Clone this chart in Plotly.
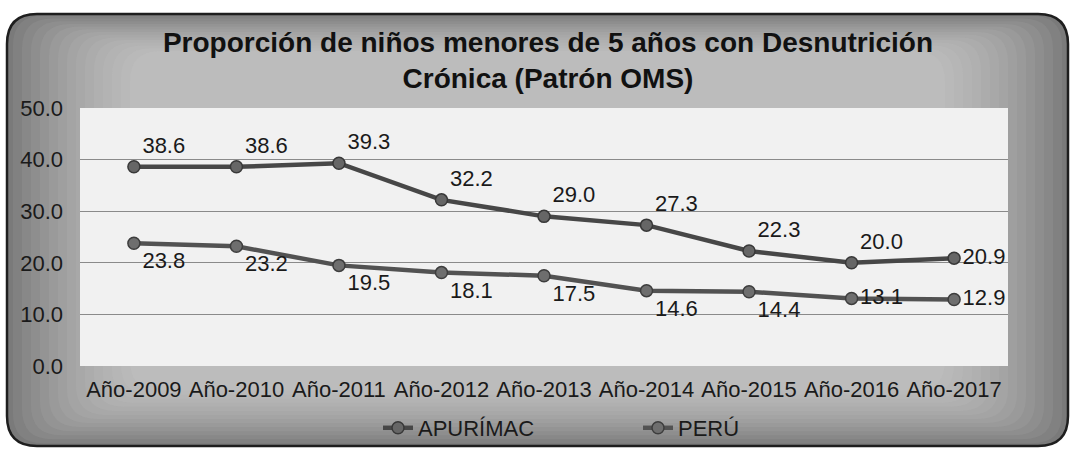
import plotly.graph_objects as go

categories = ["Año-2009", "Año-2010", "Año-2011", "Año-2012", "Año-2013",
              "Año-2014", "Año-2015", "Año-2016", "Año-2017"]
apurimac = [38.6, 38.6, 39.3, 32.2, 29.0, 27.3, 22.3, 20.0, 20.9]
peru = [23.8, 23.2, 19.5, 18.1, 17.5, 14.6, 14.4, 13.1, 12.9]
y_ticks = [0, 10, 20, 30, 40, 50]

title_text = ("<b>Proporción de niños menores de 5 años con Desnutrición<br>"
              "Crónica (Patrón OMS)</b>")

W, H = 1075, 461
L, R, T, B = 80, 1008, 108, 366  # plot area in pixels
FONT = "Liberation Sans, Arial"


def px(x):
    return (x - L) / (R - L)


def py(y):
    return (B - y) / (B - T)


def rounded(x0, y0, x1, y1, r):
    return (f"M {px(x0 + r)},{py(y0)} L {px(x1 - r)},{py(y0)} "
            f"Q {px(x1)},{py(y0)} {px(x1)},{py(y0 + r)} "
            f"L {px(x1)},{py(y1 - r)} Q {px(x1)},{py(y1)} {px(x1 - r)},{py(y1)} "
            f"L {px(x0 + r)},{py(y1)} Q {px(x0)},{py(y1)} {px(x0)},{py(y1 - r)} "
            f"L {px(x0)},{py(y0 + r)} Q {px(x0)},{py(y0)} {px(x0 + r)},{py(y0)} Z")


shapes = [
    dict(type="path", xref="paper", yref="paper", layer="below",
         path=rounded(7, 14, 1068, 446, 30), fillcolor="#7a7a7a",
         line=dict(color="#1e1e1e", width=2.5)),
]
# soft vignette: lighter toward the centre/top
for i in range(14):
    inset = 6 + i * 9
    shapes.append(dict(type="path", xref="paper", yref="paper", layer="below",
                       path=rounded(7 + inset, 14 + inset * 0.3, 1068 - inset,
                                    446 - inset * 0.45, 30),
                       fillcolor="rgba(230,230,230,0.075)",
                       line=dict(width=0)))
shapes.append(dict(type="rect", xref="paper", yref="paper", layer="below",
                   x0=0, x1=1, y0=0, y1=1, fillcolor="#f1f1f1",
                   line=dict(width=0)))

fig = go.Figure()
fig.add_trace(go.Scatter(
    x=categories, y=apurimac, name="APURÍMAC", mode="lines+markers+text",
    line=dict(color="#474747", width=4.5),
    marker=dict(size=12, color="#666666", line=dict(color="#383838", width=1.5)),
    texttemplate="%{y:.1f}",
    textposition=["top right"] * 8 + ["middle right"],
    textfont=dict(family=FONT, size=22, color="#1a1a1a"),
    cliponaxis=False,
))
fig.add_trace(go.Scatter(
    x=categories, y=peru, name="PERÚ", mode="lines+markers+text",
    line=dict(color="#525252", width=4.5),
    marker=dict(size=12, color="#6e6e6e", line=dict(color="#3d3d3d", width=1.5)),
    texttemplate="%{y:.1f}",
    textposition=["bottom right"] * 7 + ["middle right"] * 2,
    textfont=dict(family=FONT, size=22, color="#1a1a1a"),
    cliponaxis=False,
))

fig.update_layout(
    width=W, height=H,
    margin=dict(l=L, r=W - R, t=T, b=H - B),
    paper_bgcolor="white",
    plot_bgcolor="rgba(0,0,0,0)",
    shapes=shapes,
    font=dict(family=FONT, color="#1a1a1a"),
    title=dict(text=title_text, x=548 / W, xanchor="center",
               y=1 - 52 / H, yanchor="top", yref="container",
               font=dict(family=FONT, size=28, color="#111111")),
    xaxis=dict(type="category", showgrid=False, showline=False, zeroline=False,
               tickfont=dict(size=22, color="#1a1a1a"), ticklabelstandoff=8),
    yaxis=dict(range=[0, 50], tickvals=y_ticks, tickformat=".1f",
               showgrid=True, gridcolor="#8a8a8a", gridwidth=1,
               zeroline=False, showline=False,
               tickfont=dict(size=22, color="#1a1a1a"), ticklabelstandoff=16),
    legend=dict(orientation="h", x=px(638), xanchor="center",
                y=py(428), yanchor="middle", bgcolor="rgba(0,0,0,0)",
                font=dict(size=22, color="#1a1a1a"), entrywidth=215,
                entrywidthmode="pixels"),
    showlegend=True,
)

fig.write_html("out.html", config={"displayModeBar": False},
               post_script="document.body.style.margin='0';")
